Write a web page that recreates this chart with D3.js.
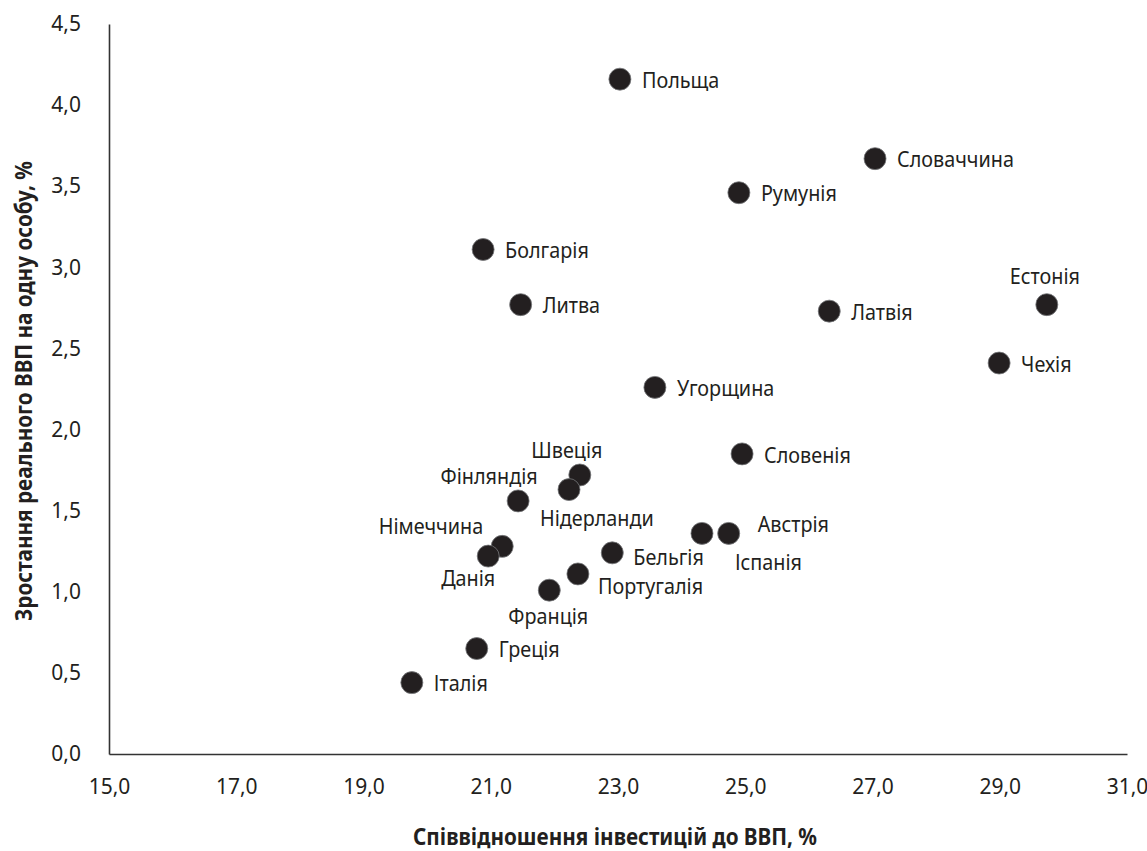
<!DOCTYPE html>
<html>
<head>
<meta charset="utf-8">
<script src="https://cdn.jsdelivr.net/npm/d3@7"></script>
<style>
  body { margin: 0; background: #fff; }
  text { font-family: "Noto Sans", sans-serif; fill: #231f20; }
</style>
</head>
<body>
<div id="chart"></div>
<script>
// Data: investment / GDP (%) vs real GDP per capita growth (%)
let countries = ["Польща", "Словаччина", "Румунія", "Болгарія", "Литва", "Латвія", "Естонія",
  "Чехія", "Угорщина", "Словенія", "Швеція", "Нідерланди", "Фінляндія", "Німеччина",
  "Данія", "Бельгія", "Португалія", "Франція", "Іспанія", "Австрія", "Греція", "Італія"];
let invest = [23.03, 27.04, 24.9, 20.88, 21.47, 26.32, 29.74,
  28.99, 23.58, 24.95, 22.4, 22.23, 21.43, 21.18,
  20.96, 22.91, 22.37, 21.92, 24.32, 24.74, 20.78, 19.76];
let growth = [4.16, 3.67, 3.46, 3.11, 2.77, 2.73, 2.77,
  2.41, 2.26, 1.85, 1.72, 1.63, 1.56, 1.28,
  1.22, 1.24, 1.11, 1.01, 1.36, 1.36, 0.65, 0.44];
let xTicks = [15, 17, 19, 21, 23, 25, 27, 29, 31];
let yTicks = [0, 0.5, 1, 1.5, 2, 2.5, 3, 3.5, 4, 4.5];
let xTitle = "Співвідношення інвестицій до ВВП, %";
let yTitle = "Зростання реального ВВП на одну особу, %";

// label placement (anchor, dx, dy from the dot centre), default is to the right
let labelPlace = {
  "Естонія": ["middle", -2, -28],
  "Швеція": ["middle", -13, -25],
  "Фінляндія": ["middle", -29, -25],
  "Нідерланди": ["start", -29, 29],
  "Німеччина": ["end", -19, -20],
  "Данія": ["middle", -20, 22],
  "Бельгія": ["start", 21, 4],
  "Португалія": ["start", 20, 12],
  "Франція": ["middle", -1, 26],
  "Іспанія": ["start", 33, 29],
  "Австрія": ["start", 29, -9]
};

let data = countries.map((c, i) => ({ name: c, x: invest[i], y: growth[i] }));

let width = 1147, height = 851;
let fmt = v => d3.format(".1f")(v).replace(".", ",");
let squeeze = 0.9; // the original font is narrower than Noto Sans

let xScale = d3.scaleLinear().domain([15, 31]).range([109, 1127]);
let yScale = d3.scaleLinear().domain([0, 4.5]).range([754, 24]);

let svg = d3.select("#chart").append("svg")
  .attr("width", width)
  .attr("height", height);

// axes (lines only, no tick marks)
let xAxis = svg.append("g")
  .attr("transform", "translate(0," + yScale(0) + ")")
  .call(d3.axisBottom(xScale).tickValues(xTicks).tickSize(0).tickPadding(25).tickFormat(fmt));
let yAxis = svg.append("g")
  .attr("transform", "translate(" + xScale(15) + ",0)")
  .call(d3.axisLeft(yScale).tickValues(yTicks).tickSize(0).tickPadding(28).tickFormat(fmt));

[xAxis, yAxis].forEach(a => {
  a.select(".domain").attr("stroke", "#333").attr("stroke-width", 1.6);
  a.selectAll("text")
    .style("font-family", "'Noto Sans', sans-serif")
    .style("font-size", "21px")
    .attr("fill", "#231f20");
});

// axis titles
svg.append("g")
  .attr("transform", "translate(615,845)")
  .append("text")
  .attr("transform", "scale(" + squeeze + ",1)")
  .attr("text-anchor", "middle")
  .style("font-size", "23px")
  .style("font-weight", "bold")
  .text(xTitle);

svg.append("g")
  .attr("transform", "translate(32,391) rotate(-90)")
  .append("text")
  .attr("transform", "scale(" + squeeze + ",1)")
  .attr("text-anchor", "middle")
  .style("font-size", "23px")
  .style("font-weight", "bold")
  .text(yTitle);

// points
svg.append("g")
  .selectAll("circle")
  .data(data)
  .enter()
  .append("circle")
  .attr("cx", d => xScale(d.x))
  .attr("cy", d => yScale(d.y))
  .attr("r", 11)
  .attr("fill", "#231f20")
  .attr("stroke", "#77787b")
  .attr("stroke-width", 0.8);

// labels
svg.append("g")
  .selectAll("g")
  .data(data)
  .enter()
  .append("g")
  .attr("transform", d => {
    let p = labelPlace[d.name] || ["start", 22, 1];
    return "translate(" + (xScale(d.x) + p[1]) + "," + (yScale(d.y) + p[2]) + ")";
  })
  .append("text")
  .attr("transform", "scale(" + squeeze + ",1)")
  .attr("dy", "0.35em")
  .attr("text-anchor", d => labelPlace[d.name] ? labelPlace[d.name][0] : "start")
  .style("font-size", "22px")
  .text(d => d.name);
</script>
</body>
</html>
